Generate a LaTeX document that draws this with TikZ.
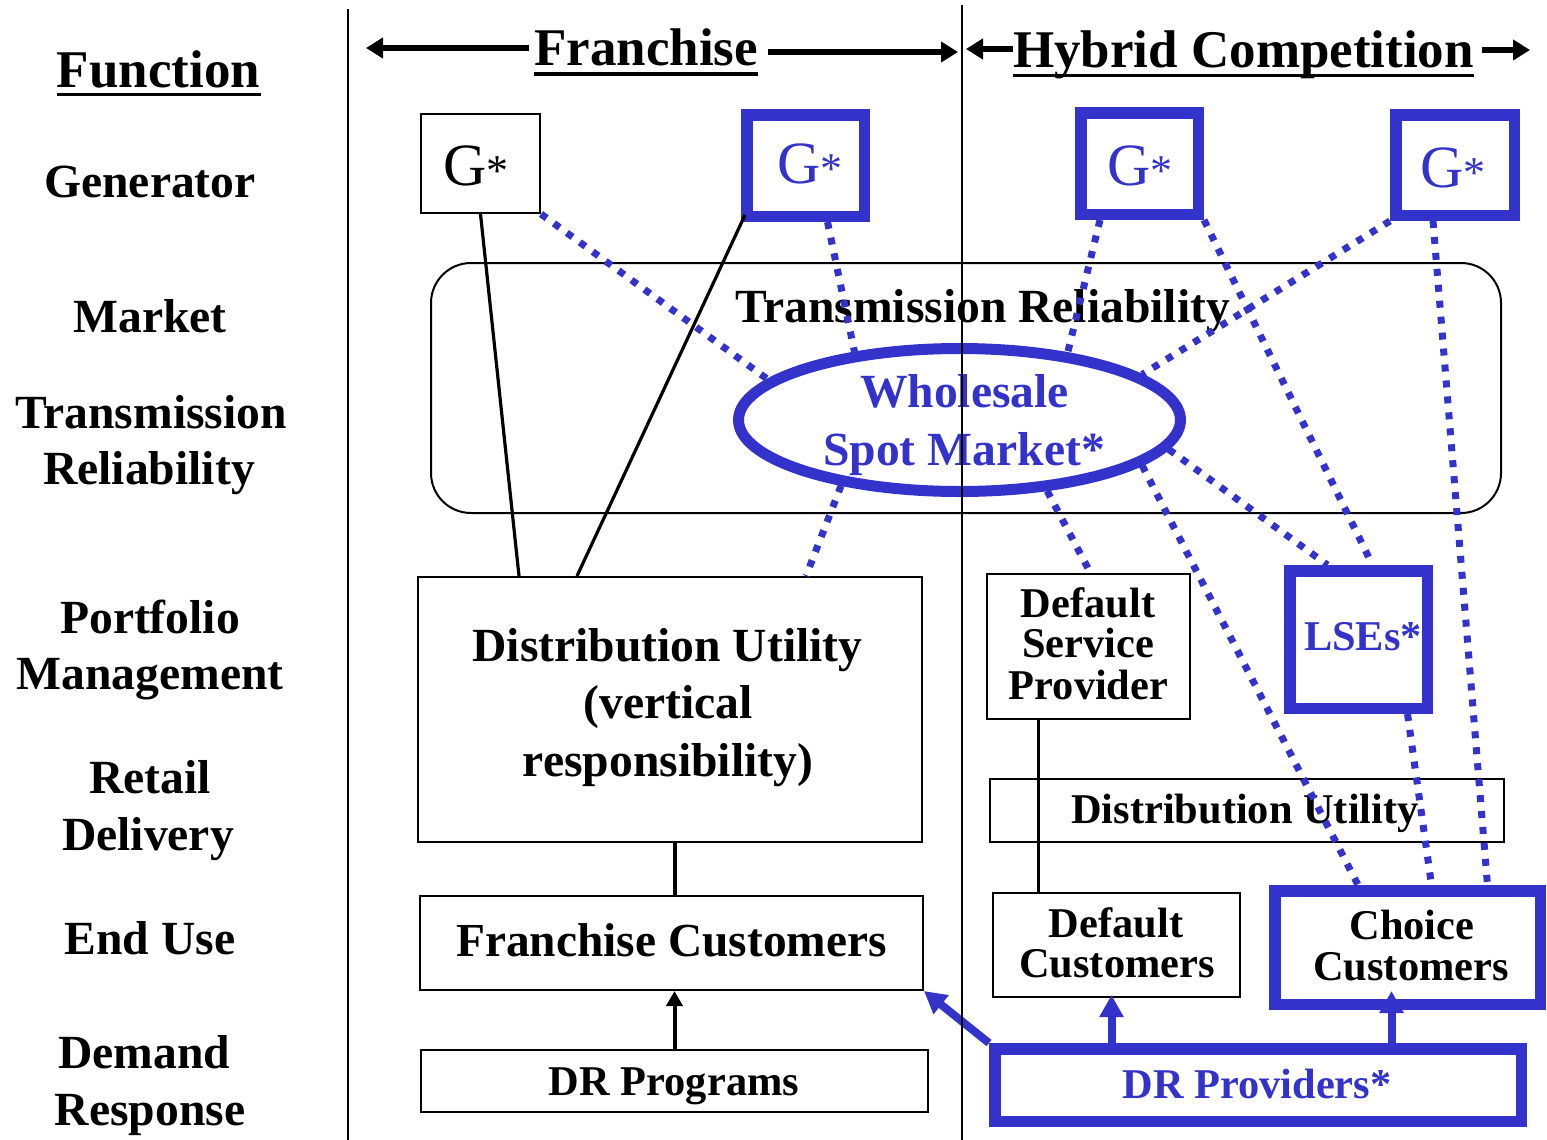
\documentclass[tikz,border=0pt]{standalone}
\usepackage{fontspec}
\setmainfont{Liberation Serif}
\usetikzlibrary{arrows.meta,shapes.geometric,calc}
\definecolor{dblue}{RGB}{51,51,204}
\newcommand\myfbig{\bfseries\fontsize{23.8}{28.5}\selectfont}
\newcommand\myfmid{\bfseries\fontsize{23.7}{28}\selectfont}
\newcommand\myfsmall{\bfseries\fontsize{21.2}{20.5}\selectfont}
\newcommand\myftitle{\bfseries\fontsize{26.5}{32}\selectfont}
\newcommand\myfG{\fontsize{30}{36}\selectfont}
\newcommand\myfast{\fontsize{22}{26}\selectfont}
\begin{document}
\begin{tikzpicture}[x=0.5pt,y=-0.5pt,
  thinbox/.style={draw,line width=1pt,inner sep=0},
  thickbox/.style={draw=dblue,line width=5.75pt,inner sep=0},
  lbl/.style={inner sep=0,anchor=base,font=\myfbig},
  slbl/.style={inner sep=0,anchor=base,font=\myfsmall},
  gtxt/.style={inner sep=0,anchor=base,font=\myfG},
  dots/.style={draw=dblue,line width=3.5pt,dash pattern=on 3.5pt off 4.5pt},
  blk/.style={line width=1.6pt},
  barrow/.style={draw=dblue,line width=4pt,-{Triangle[width=11.5pt,length=11pt]}},
  topar/.style={line width=3pt,-{Triangle[width=10pt,length=8.5pt]}}]
\useasboundingbox (0,0) rectangle (1547,1140);

% left column labels
\node[lbl,font=\myftitle] (fn) at (158.5,87) {Function};
\node[lbl] (lgen) at (150,197) {Generator};
\node[lbl] (lmkt) at (150,332) {Market};
\node[lbl] (ltr1) at (151,428) {Transmission};
\node[lbl] (ltr2) at (149,484) {Reliability};
\node[lbl] (lpm1) at (150,633) {Portfolio};
\node[lbl] (lpm2) at (150,689) {Management};
\node[lbl] (lrd1) at (150,793) {Retail};
\node[lbl] (lrd2) at (148,850) {Delivery};
\node[lbl] (leu) at (150,954) {End Use};
\node[lbl] (ldr1) at (144,1068) {Demand};
\node[lbl] (ldr2) at (150,1125) {Response};

% titles
\node[lbl,font=\myftitle] (fr) at (646,65) {Franchise};
\node[lbl,font=\myftitle] (hy) at (1243.5,67) {Hybrid Competition};
\draw[line width=1.75pt] ([yshift=-3.75pt]fn.base west) -- ([yshift=-3.75pt]fn.base east);
\draw[line width=1.75pt] ([yshift=-4.5pt]fr.base west) -- ([yshift=-4.5pt]fr.base east);
\draw[line width=1.75pt] ([yshift=-4.25pt]hy.base west) -- ([yshift=-4.25pt]hy.base east);
\coordinate (tipA) at (366,48);
\coordinate (tipB) at (958,52);
\coordinate (tipC) at (966,49);
\coordinate (tipD) at (1530,50);
\draw[topar,shorten <=2.5pt] (fr.west |- tipA) -- (tipA);
\draw[topar,shorten <=5pt] (fr.east |- tipB) -- (tipB);
\draw[topar] (hy.west |- tipC) -- (tipC);
\draw[topar,shorten <=4pt] (hy.east |- tipD) -- (tipD);

% generators
\node[thinbox,minimum width=59.5pt,minimum height=49.5pt] (g1) at (480.5,163.5) {};
\node[thickbox,minimum width=58.75pt,minimum height=50.75pt] (g2) at (805.5,165.5) {};
\node[thickbox,minimum width=58.75pt,minimum height=50.75pt] (g3) at (1139.5,163.5) {};
\node[thickbox,minimum width=59.25pt,minimum height=50.25pt] (g4) at (1455,165) {};
\node[gtxt] (gt1) at (476,185) {G{\myfast*}};
\node[gtxt,text=dblue] (gt2) at (810,183) {G{\myfast*}};
\node[gtxt,text=dblue] (gt3) at (1140,185) {G{\myfast*}};
\node[gtxt,text=dblue] (gt4) at (1453,187) {G{\myfast*}};

% transmission reliability and wholesale market
\node[thinbox,rounded corners=20pt,minimum width=535pt,minimum height=125pt] (trb) at (966,388) {};
\node[lbl] (trt) at (982.5,322) {Transmission Reliability};
\node[ellipse,draw=dblue,line width=5.5pt,inner sep=0,minimum width=221pt,minimum height=71.5pt] (ell) at (959.5,420) {};
\node[lbl,text=dblue] (ws1) at (964.5,407) {Wholesale};
\node[lbl,text=dblue] (ws2) at (964,465) {Spot Market*};

% franchise side
\node[thinbox,minimum width=252pt,minimum height=132.5pt] (du) at (670,709.5) {};
\node[lbl] (du1) at (667.5,661) {Distribution Utility};
\node[lbl] (du2t) at (668,718) {(vertical};
\node[lbl] (du3) at (668,776) {responsibility)};
\node[thinbox,minimum width=251.5pt,minimum height=47pt] (fc) at (671.5,943) {};
\node[lbl,font=\myfmid] (fct) at (671.5,956) {Franchise Customers};
\node[thinbox,minimum width=253.5pt,minimum height=31pt] (drp) at (674.5,1081) {};
\node[slbl] (drpt) at (674,1095) {DR Programs};

% hybrid side
\node[thinbox,minimum width=101.5pt,minimum height=72.5pt] (dsp) at (1088.5,646.5) {};
\node[slbl] (dsp1) at (1088,617) {Default};
\node[slbl] (dsp2) at (1088,657) {Service};
\node[slbl] (dsp3) at (1088.5,699) {Provider};
\node[thickbox,minimum width=68.75pt,minimum height=68.75pt] (lse) at (1358.5,639.5) {};
\node[slbl,text=dblue] (lset) at (1363,650) {LSEs*};
\node[thinbox,minimum width=257pt,minimum height=31.5pt] (du2) at (1247,810.5) {};
\node[slbl] (du2l) at (1245,823) {Distribution Utility};
\node[thinbox,minimum width=123.5pt,minimum height=52pt] (dc) at (1116.5,945) {};
\node[slbl] (dc1) at (1116,937) {Default};
\node[slbl] (dc2) at (1117,977) {Customers};
\node[thickbox,minimum width=132.75pt,minimum height=56.75pt] (cc) at (1407.5,947.5) {};
\node[slbl] (cc1) at (1412,939) {Choice};
\node[slbl] (cc2) at (1411,980) {Customers};
\node[thickbox,minimum width=263.25pt,minimum height=36.25pt] (drv) at (1258,1085) {};
\node[slbl,text=dblue] (drvt) at (1257,1098) {DR Providers*};

% dotted blue links
\draw[dots] (g1.south east) -- (ell.168);
\draw[dots] ([xshift=11pt]g2.south) -- (ell.147);
\draw[dots] ([xshift=-19.75pt]g3.south) -- (ell.32);
\draw[dots] (g3.south east) -- ([xshift=7pt]lse.north);
\draw[dots] (g4.south west) -- (ell.14);
\draw[dots] ([xshift=-11pt]g4.south) -- ([xshift=40pt]cc.north);
\draw[dots] (ell.-8) -- ([xshift=-15.5pt]lse.north);
\draw[dots] (ell.-14) -- ([xshift=-24.75pt]cc.north);
\draw[dots] (ell.-39) -- ([xshift=1pt]dsp.north);
\draw[dots] (ell.-151) -- ([xshift=68pt]du.north);
\draw[dots] ([xshift=24.5pt]lse.south) -- ([xshift=12pt]cc.north);

% solid black links
\draw[blk] (g1.south) -- ([xshift=-75.5pt]du.north);
\draw[blk] ([xshift=2pt,yshift=3.5pt]g2.south west) -- ([xshift=-46.5pt]du.north);
\coordinate (a1) at ([xshift=-25pt]dsp.south);
\draw[blk] (a1) -- (a1 |- dc.north);
\coordinate (a2) at ([xshift=2.5pt]du.south);
\draw[blk] (a2) -- (a2 |- fc.north);
\draw[blk,line width=2pt,-{Triangle[width=8pt,length=7.5pt]}] (drp.north) -- (drp.north |- fc.south);

% blue arrows from DR providers
\draw[barrow] (drv.north west) -- (fc.south east);
\coordinate (b1) at ([xshift=-2.5pt,yshift=1.5pt]dc.south);
\draw[barrow] (b1 |- drv.north) -- (b1);
\coordinate (b2) at ([xshift=-8pt,yshift=9.5pt]cc.south);
\draw[barrow] (b2 |- drv.north) -- (b2);

% column separators
\draw[line width=1pt] (348,9) -- (348,1140);
\draw[line width=1pt] (962,5) -- (962,1140);
\end{tikzpicture}
\end{document}
